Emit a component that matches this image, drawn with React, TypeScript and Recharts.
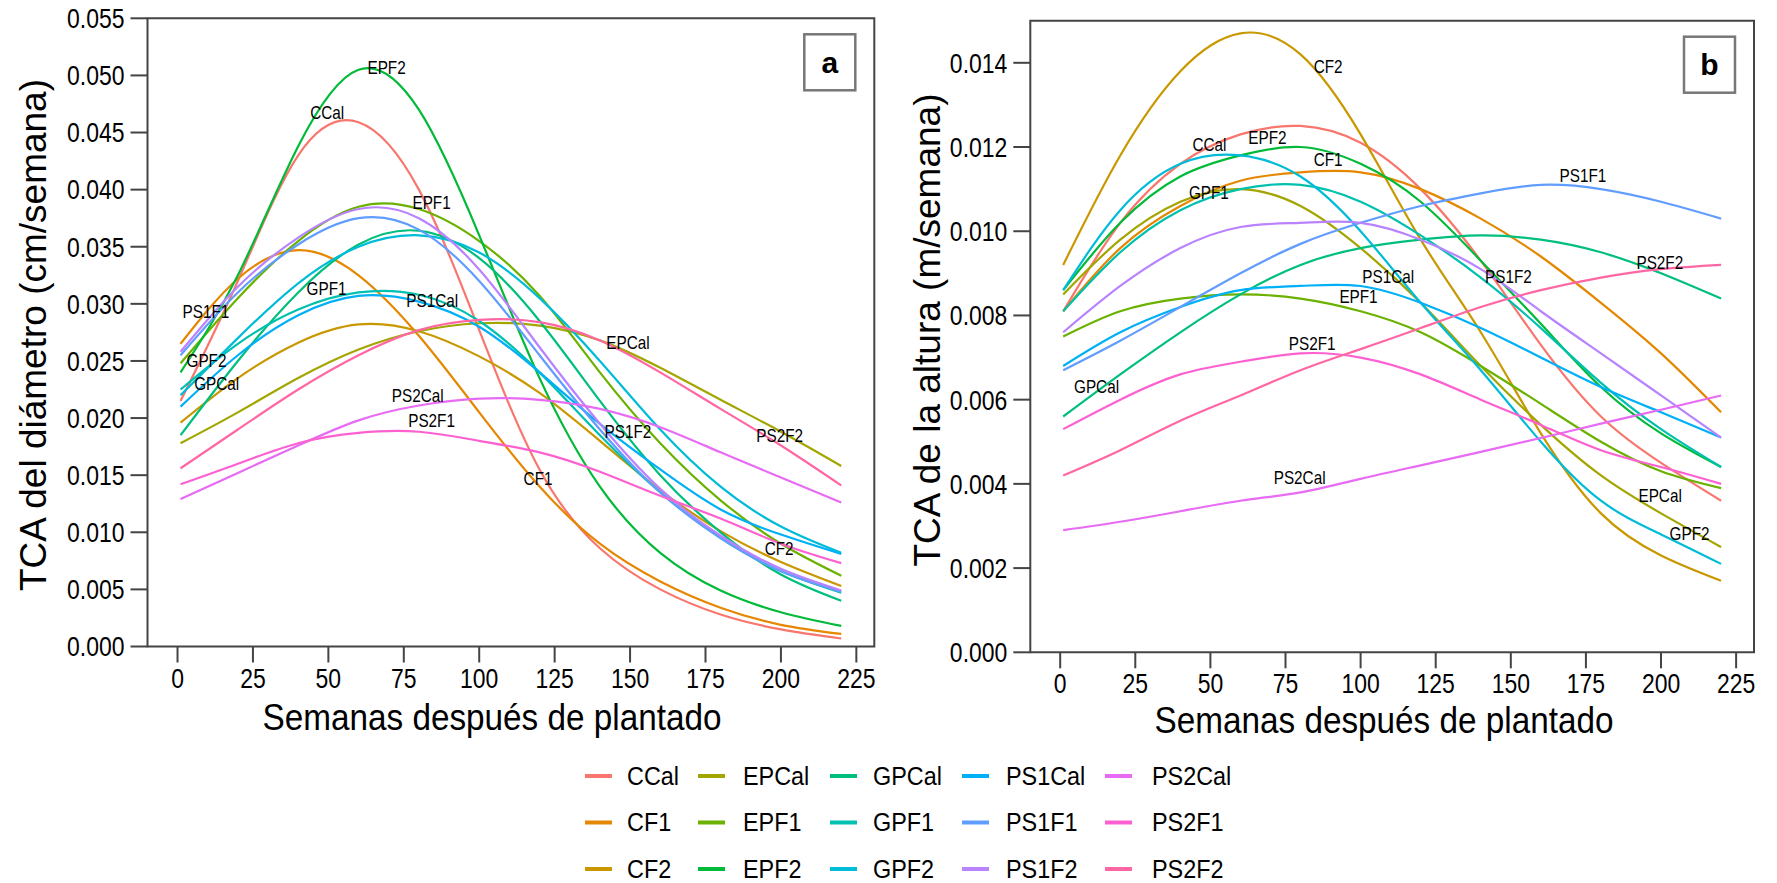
import React from 'react';
import { LineChart, Line, XAxis, YAxis, ReferenceArea, ReferenceDot } from 'recharts';

const FONT = "'Liberation Sans', Arial, Helvetica, sans-serif";
const SX = 0.9;

const weeks = [1, 20, 40, 60, 80, 100, 120, 140, 160, 180, 200, 220];
const xTicks = [0, 25, 50, 75, 100, 125, 150, 175, 200, 225];
const yTicksDiam = [0, 0.005, 0.01, 0.015, 0.02, 0.025, 0.03, 0.035, 0.04, 0.045, 0.05, 0.055];
const yTicksAlt = [0, 0.002, 0.004, 0.006, 0.008, 0.01, 0.012, 0.014];

const groups = ['CCal', 'CF1', 'CF2', 'EPCal', 'EPF1', 'EPF2', 'GPCal', 'GPF1', 'GPF2', 'PS1Cal', 'PS1F1', 'PS1F2', 'PS2Cal', 'PS2F1', 'PS2F2'];
const colors = ['#F8766D', '#E58700', '#C99800', '#A3A500', '#6BB100', '#00BA38', '#00BF7D', '#00C0AF', '#00BCD8', '#00B0F6', '#619CFF', '#B983FF', '#E76BF3', '#FD61D1', '#FF67A4'];

// Panel a: TCA del diámetro (cm/semana)
const diamCCal = [0.0215, 0.0320, 0.0430, 0.0459, 0.0400, 0.0277, 0.0155, 0.0086, 0.0050, 0.0028, 0.0015, 0.0007];
const diamCF1 = [0.0265, 0.0322, 0.0347, 0.0325, 0.0272, 0.0205, 0.0140, 0.0090, 0.0057, 0.0034, 0.0019, 0.0011];
const diamCF2 = [0.0196, 0.0235, 0.0266, 0.0282, 0.0276, 0.0254, 0.0222, 0.0180, 0.0137, 0.0101, 0.0074, 0.0053];
const diamEPCal = [0.0178, 0.0205, 0.0235, 0.0260, 0.0276, 0.0283, 0.0281, 0.0268, 0.0244, 0.0216, 0.0188, 0.0158];
const diamEPF1 = [0.0248, 0.0305, 0.0355, 0.0385, 0.0383, 0.0355, 0.0307, 0.0240, 0.0178, 0.0128, 0.0090, 0.0062];
const diamEPF2 = [0.0240, 0.0325, 0.0438, 0.0505, 0.0470, 0.0360, 0.0235, 0.0140, 0.0082, 0.0049, 0.0030, 0.0018];
const diamGPCal = [0.0185, 0.0250, 0.0310, 0.0352, 0.0364, 0.0340, 0.0285, 0.0215, 0.0150, 0.0100, 0.0063, 0.0040];
const diamGPF1 = [0.0225, 0.0265, 0.0295, 0.0310, 0.0308, 0.0285, 0.0240, 0.0185, 0.0135, 0.0095, 0.0066, 0.0047];
const diamGPF2 = [0.0220, 0.0270, 0.0318, 0.0350, 0.0360, 0.0345, 0.0305, 0.0250, 0.0190, 0.0140, 0.0105, 0.0082];
const diamPS1Cal = [0.0210, 0.0255, 0.0290, 0.0307, 0.0302, 0.0280, 0.0240, 0.0195, 0.0155, 0.0120, 0.0098, 0.0081];
const diamPS1F1 = [0.0255, 0.0310, 0.0352, 0.0375, 0.0365, 0.0320, 0.0255, 0.0190, 0.0135, 0.0095, 0.0066, 0.0048];
const diamPS1F2 = [0.0258, 0.0315, 0.0358, 0.0383, 0.0375, 0.0330, 0.0262, 0.0195, 0.0138, 0.0097, 0.0068, 0.0049];
const diamPS2Cal = [0.0129, 0.0152, 0.0176, 0.0198, 0.0211, 0.0217, 0.0216, 0.0208, 0.0192, 0.0170, 0.0148, 0.0126];
const diamPS2F1 = [0.0142, 0.0160, 0.0178, 0.0187, 0.0188, 0.0180, 0.0170, 0.0153, 0.0132, 0.0112, 0.0090, 0.0073];
const diamPS2F2 = [0.0156, 0.0190, 0.0225, 0.0255, 0.0277, 0.0286, 0.0284, 0.0268, 0.0240, 0.0208, 0.0176, 0.0141];

// Panel b: TCA de la altura (m/semana)
const altCCal = [0.0081, 0.0102, 0.0116, 0.0123, 0.0125, 0.0121, 0.0110, 0.0093, 0.0073, 0.0056, 0.0045, 0.0036];
const altCF1 = [0.0081, 0.0096, 0.0106, 0.0112, 0.0114, 0.0114, 0.0110, 0.0103, 0.0094, 0.0083, 0.0071, 0.0057];
const altCF2 = [0.0092, 0.0118, 0.0138, 0.0147, 0.0142, 0.0123, 0.0098, 0.0076, 0.0052, 0.0033, 0.0023, 0.0017];
const altEPCal = [0.0085, 0.0098, 0.0107, 0.0110, 0.0106, 0.0096, 0.0083, 0.0068, 0.0054, 0.0042, 0.0033, 0.0025];
const altEPF1 = [0.0075, 0.0081, 0.0084, 0.0085, 0.0084, 0.0081, 0.0076, 0.0068, 0.0059, 0.0050, 0.0043, 0.0039];
const altEPF2 = [0.0086, 0.0102, 0.0113, 0.0118, 0.0120, 0.0116, 0.0107, 0.0093, 0.0078, 0.0063, 0.0052, 0.0044];
const altGPCal = [0.0056, 0.0066, 0.0076, 0.0085, 0.0092, 0.0096, 0.0098, 0.0099, 0.0098, 0.0095, 0.0090, 0.0084];
const altGPF1 = [0.0081, 0.0095, 0.0105, 0.0110, 0.0111, 0.0107, 0.0099, 0.0089, 0.0077, 0.0064, 0.0053, 0.0044];
const altGPF2 = [0.0086, 0.0105, 0.0116, 0.0118, 0.0113, 0.0100, 0.0083, 0.0067, 0.0050, 0.0036, 0.0028, 0.0021];
const altPS1Cal = [0.0068, 0.0076, 0.0082, 0.0086, 0.0087, 0.0087, 0.0083, 0.0077, 0.0070, 0.0063, 0.0057, 0.0051];
const altPS1F1 = [0.0067, 0.0074, 0.0082, 0.0090, 0.0097, 0.0102, 0.0106, 0.0109, 0.0111, 0.0110, 0.0107, 0.0103];
const altPS1F2 = [0.0076, 0.0087, 0.0096, 0.0101, 0.0102, 0.0102, 0.0098, 0.0091, 0.0081, 0.0071, 0.0061, 0.0051];
const altPS2Cal = [0.0029, 0.0031, 0.00335, 0.0036, 0.0038, 0.00412, 0.00444, 0.00476, 0.00509, 0.00543, 0.00576, 0.0061];
const altPS2F1 = [0.0053, 0.0060, 0.0066, 0.0069, 0.0071, 0.0070, 0.0066, 0.0060, 0.0054, 0.0048, 0.0044, 0.0040];
const altPS2F2 = [0.0042, 0.0048, 0.0055, 0.0061, 0.0067, 0.0072, 0.0077, 0.0082, 0.0086, 0.0089, 0.0091, 0.0092];

// curve label anchors (weeks, value), in groups order
const diamLabelX = [49.6, 119.5, 199.4, 149.3, 84.2, 69.3, 13.0, 49.4, 9.6, 84.4, 9.4, 149.3, 79.6, 84.2, 199.6];
const diamLabelY = [0.0467, 0.0147, 0.0085, 0.0266, 0.0388, 0.0506, 0.0230, 0.0313, 0.0250, 0.0302, 0.0293, 0.0188, 0.0219, 0.0197, 0.0184];
const altLabelX = [49.7, 89.2, 89.2, 199.7, 99.3, 69.0, 12.1, 49.5, 209.5, 109.2, 174.0, 149.2, 79.7, 83.9, 199.6];
const altLabelY = [0.01204, 0.0117, 0.0139, 0.0037, 0.00843, 0.01221, 0.00629, 0.0109, 0.00281, 0.00892, 0.01132, 0.00892, 0.00414, 0.00733, 0.00925];

const diamSeries = [diamCCal, diamCF1, diamCF2, diamEPCal, diamEPF1, diamEPF2, diamGPCal, diamGPF1, diamGPF2, diamPS1Cal, diamPS1F1, diamPS1F2, diamPS2Cal, diamPS2F1, diamPS2F2];
const altSeries = [altCCal, altCF1, altCF2, altEPCal, altEPF1, altEPF2, altGPCal, altGPF1, altGPF2, altPS1Cal, altPS1F1, altPS1F2, altPS2Cal, altPS2F1, altPS2F2];

const buildTable = (series: number[][]) =>
  weeks.map((w, i) => {
    const row: Record<string, number> = { week: w };
    groups.forEach((g, k) => {
      row[g] = series[k][i];
    });
    return row;
  });

const X_DOMAIN: [number, number] = [-9.95, 230.95];

function HText(props: any) {
  const { x, y, size, anchor = 'middle', weight = 'normal', baseline = 'auto', children, fill = '#000', sx = SX } = props;
  return (
    <text
      transform={`translate(${x} ${y}) scale(${sx} 1)`}
      x={0}
      y={0}
      textAnchor={anchor}
      dominantBaseline={baseline}
      fontSize={size}
      fontFamily={FONT}
      fontWeight={weight}
      fill={fill}
    >
      {children}
    </text>
  );
}

const YTick = (props: any) => (
  <HText x={props.x} y={props.y} size={28} anchor="end" baseline="central" sx={0.82}>
    {Number(props.payload.value).toFixed(3)}
  </HText>
);

const XTick = (props: any) => (
  <HText x={props.x} y={props.y + 20} size={28} anchor="middle" sx={0.82}>
    {String(props.payload.value)}
  </HText>
);

function Panel(props: any) {
  const { series, labelX, labelY, yMax, yTicks, width, height, margin, yWidth, tag } = props;
  const data = buildTable(series);
  return (
    <LineChart width={width} height={height} data={data} margin={margin}>
      <XAxis
        dataKey="week"
        type="number"
        domain={X_DOMAIN}
        ticks={xTicks}
        allowDataOverflow
        axisLine={false}
        tickLine={{ stroke: '#444', strokeWidth: 2 }}
        tickSize={16}
        tickMargin={5}
        tick={XTick}
        height={70}
        interval={0}
      />
      <YAxis
        type="number"
        domain={[0, yMax]}
        ticks={yTicks}
        allowDataOverflow
        axisLine={false}
        tickLine={{ stroke: '#444', strokeWidth: 2 }}
        tickSize={17}
        tickMargin={6}
        tick={YTick}
        width={yWidth}
        interval={0}
      />
      {groups.map((g, k) => (
        <Line
          key={g}
          dataKey={g}
          type="natural"
          stroke={colors[k]}
          strokeWidth={2.2}
          dot={false}
          activeDot={false}
          isAnimationActive={false}
        />
      ))}
      <ReferenceArea
        x1={X_DOMAIN[0]}
        x2={X_DOMAIN[1]}
        y1={0}
        y2={yMax}
        fill="none"
        fillOpacity={0}
        stroke="#444"
        strokeWidth={2}
        ifOverflow="visible"
      />
      {groups.map((g, k) => (
        <ReferenceDot
          key={'lab' + g}
          x={labelX[k]}
          y={labelY[k]}
          r={0}
          ifOverflow="visible"
          shape={(p: any) => (
            <HText x={p.cx} y={p.cy} size={18} anchor="middle" baseline="central" sx={0.85}>
              {g}
            </HText>
          )}
        />
      ))}
      <ReferenceDot
        x={X_DOMAIN[1]}
        y={yMax}
        r={0}
        ifOverflow="visible"
        shape={(p: any) => (
          <g>
            <rect x={p.cx - 70} y={p.cy + 16} width={51} height={56} fill="#fff" stroke="#777" strokeWidth={2.5} />
            <text x={p.cx - 44.5} y={p.cy + 44} textAnchor="middle" dominantBaseline="central" fontSize={30} fontWeight="bold" fontFamily={FONT} fill="#000">
              {tag}
            </text>
          </g>
        )}
      />
    </LineChart>
  );
}

const legendSampleX = [585, 698, 830, 962, 1105];
const legendTextX = [627, 743, 873, 1006, 1152];
const legendRowY = [776, 822.5, 869];

export default function App() {
  return (
    <div style={{ position: 'absolute', left: 0, top: 0, width: 1777, height: 883, background: '#fff', overflow: 'hidden' }}>
      <div style={{ position: 'absolute', left: 0, top: 0 }}>
        <Panel
          series={diamSeries}
          labelX={diamLabelX}
          labelY={diamLabelY}
          yMax={0.055}
          yTicks={yTicksDiam}
          width={900}
          height={730}
          margin={{ top: 18.3, right: 25.7, left: 0, bottom: 13.5 }}
          yWidth={147.5}
          tag="a"
        />
      </div>
      <div style={{ position: 'absolute', left: 880, top: 0 }}>
        <Panel
          series={altSeries}
          labelX={altLabelX}
          labelY={altLabelY}
          yMax={0.015}
          yTicks={yTicksAlt}
          width={897}
          height={740}
          margin={{ top: 20.7, right: 23, left: 0, bottom: 17.7 }}
          yWidth={150.3}
          tag="b"
        />
      </div>
      <svg style={{ position: 'absolute', left: 0, top: 0 }} width={1777} height={883}>
        <text transform="translate(46 335) rotate(-90)" textAnchor="middle" fontSize={37} fontFamily={FONT} fill="#000">
          TCA del diámetro (cm/semana)
        </text>
        <text transform="translate(940 330) rotate(-90)" textAnchor="middle" fontSize={37} fontFamily={FONT} fill="#000">
          TCA de la altura (m/semana)
        </text>
        <HText x={492} y={730} size={37}>Semanas después de plantado</HText>
        <HText x={1384} y={733} size={37}>Semanas después de plantado</HText>
        {groups.map((g, k) => {
          const col = Math.floor(k / 3);
          const row = k % 3;
          const y = legendRowY[row];
          return (
            <g key={'leg' + g}>
              <line x1={legendSampleX[col]} x2={legendSampleX[col] + 27} y1={y} y2={y} stroke={colors[k]} strokeWidth={4} />
              <HText x={legendTextX[col]} y={y} size={26} anchor="start" baseline="central">
                {g}
              </HText>
            </g>
          );
        })}
      </svg>
    </div>
  );
}
